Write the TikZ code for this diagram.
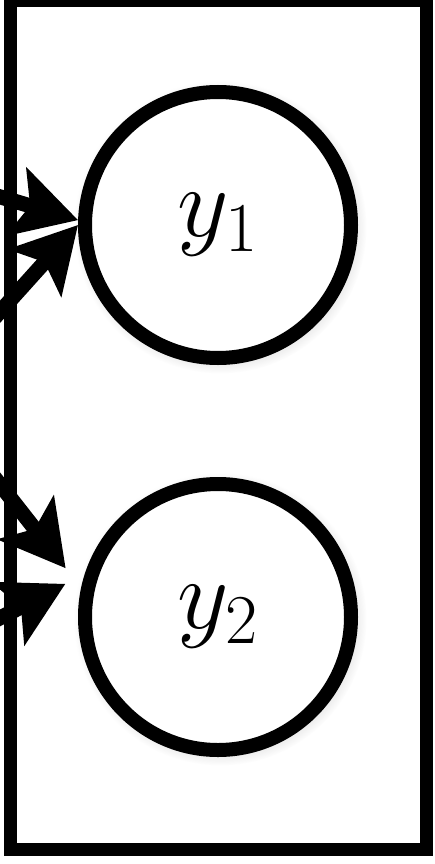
\documentclass[tikz,border=0pt]{standalone}
\usepackage{fix-cm}
\usetikzlibrary{arrows.meta,shadows}
\begin{document}
\begin{tikzpicture}[x=1pt,y=-1pt,>={Stealth[length=64pt,width=70pt,inset=14pt]},line join=miter]
\useasboundingbox (0,0) rectangle (435,864);
\tikzset{plate/.style={draw=black,line width=13pt,minimum width=416pt,minimum height=848.5pt,inner sep=0pt},unit/.style={circle,draw=black,fill=white,line width=14pt,minimum size=266pt,inner sep=0pt,font=\fontsize{100}{115}\selectfont,circular drop shadow={shadow xshift=2pt,shadow yshift=-2pt,opacity=.3}},link/.style={draw=black,line width=15pt,->}}
\node[plate] (plate) at (218.5,424.75) {};
\node[unit] (y1) at (218,225) {$y_1$};
\node[unit] (y2) at (218,617) {$y_2$};
\coordinate (in1) at (-100,167); \coordinate (in2) at (-100,423);
\coordinate (in3) at (-100,357); \coordinate (in4) at (-100,670);
\draw[link] (in1) -- (y1.178);
\draw[link] (in2) -- (y1.180);
\draw[link,shorten >=25pt] (in3) -- (y2.168);
\draw[link,shorten >=22pt] (in4) -- (y2.162);
\end{tikzpicture}
\end{document}
